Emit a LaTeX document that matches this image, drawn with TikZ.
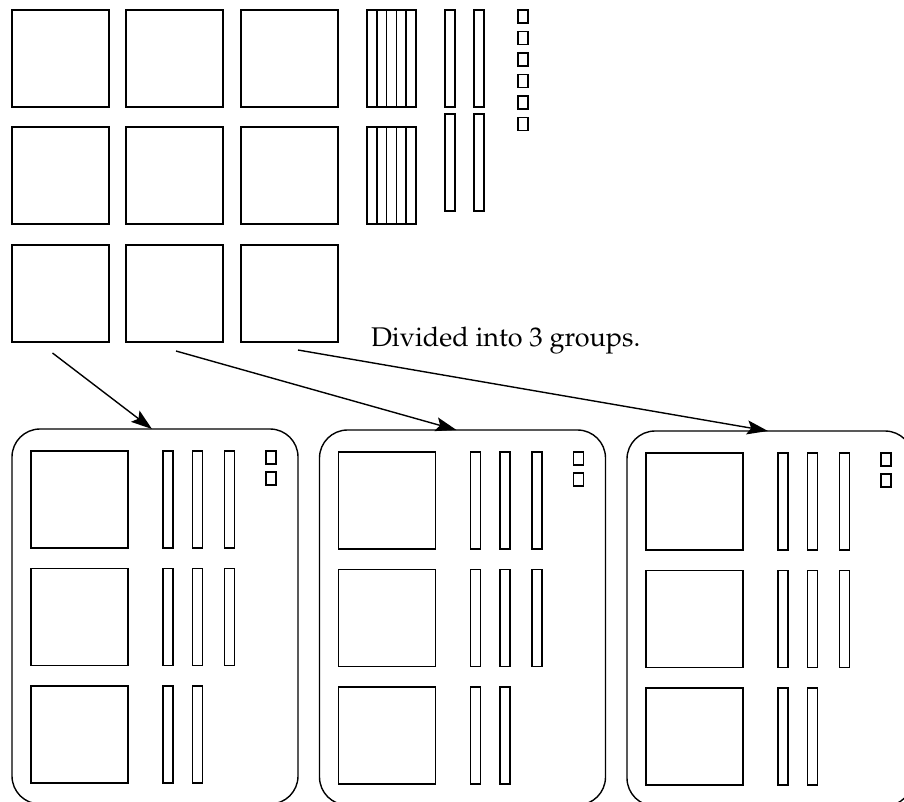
\documentclass[tikz,border=0pt]{standalone}
\usetikzlibrary{arrows.meta,calc}
\begin{document}
\begin{tikzpicture}[x=1pt,y=-1pt,
  every node/.style={inner sep=0pt,outer sep=0pt},
  base/.style={draw,line width=1.5pt,anchor=north west},
  sq/.style={base,minimum width=97pt,minimum height=97pt},
  rod/.style={base,minimum width=10pt,minimum height=97pt},
  thinrod/.style={base,minimum width=9.8pt,minimum height=97pt},
  tiny/.style={base,minimum width=10pt,minimum height=13pt},
  group/.style={draw,line width=1.4pt,rounded corners=28pt,anchor=north west,
    minimum width=286pt,minimum height=375pt},
  conn/.style={line width=1.4pt,-{Stealth[length=21pt,width=14pt,inset=4pt]}},
  caption/.style={anchor=base west,
    font=\fontencoding{T1}\fontfamily{ppl}\fontsize{27}{32}\selectfont}]
\useasboundingbox (0,0) rectangle (904,801);
\clip (0,0) rectangle (904,801);

% nine big squares
\foreach \r/\y in {1/10,2/127,3/245}
  \foreach \c/\x in {1/12,2/126,3/241}
    \node[sq] (t\r\c) at (\x,\y) {};

% two stacks of five rods
\foreach \s/\y in {1/10,2/127}
  \foreach \k in {0,...,4}
    \node[thinrod] (st\s\k) at (367+9.8*\k,\y) {};

% four single rods
\foreach \s/\y in {1/10,2/114}
  \foreach \k/\x in {1/445,2/474}
    \node[rod] (sr\s\k) at (\x,\y) {};

% six small units
\foreach \k/\y in {1/10,2/31.5,3/53,4/74.5,5/96,6/117.5}
  \node[tiny] (u\k) at (518,\y) {};

% caption
\node[caption] (lbl) at (371,346) {Divided into 3 groups.};

% the three groups
\foreach \g/\gx/\gy in {1/12/429,2/319.5/430,3/627/431}{
  \node[group] (g\g) at (\gx,\gy) {};
  \foreach \r/\ry in {1/22,2/139.5,3/257}
    \node[sq] (g\g q\r) at (\gx+19,\gy+\ry) {};
  \foreach \r/\ry in {1/22,2/139.5}
    \foreach \k/\rx in {1/151,2/180.5,3/212.5}
      \node[rod] (g\g r\r\k) at (\gx+\rx,\gy+\ry) {};
  \foreach \k/\rx in {1/151,2/180.5}
    \node[rod] (g\g r3\k) at (\gx+\rx,\gy+257) {};
  \foreach \k/\uy in {1/22,2/43}
    \node[tiny] (g\g u\k) at (\gx+254,\gy+\uy) {};
}

% connectors
\coordinate (a1) at ($(t31.south)+(-8,11)$);
\coordinate (a2) at ($(t32.south)+(1.5,9)$);
\coordinate (a3) at ($(t33.south)+(8.5,8)$);
\draw[conn] (a1) -- ($(g1.north)+(-3,0)$);
\draw[conn] (a2) -- ($(g2.north)+(-6,0)$);
\draw[conn] (a3) -- ($(g3.north)+(-2,0)$);
\end{tikzpicture}
\end{document}
